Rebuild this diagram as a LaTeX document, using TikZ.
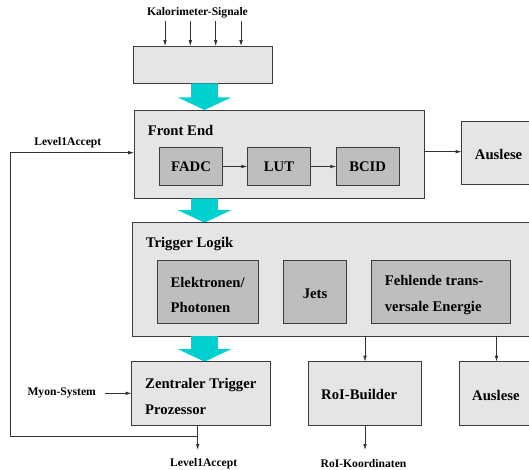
\documentclass[tikz,border=0pt]{standalone}
\usepackage{fontspec}
\setmainfont{Liberation Serif}
\newfontfamily\labelfont{Liberation Serif}
\usetikzlibrary{arrows.meta,calc}
\definecolor{boxlight}{RGB}{229,229,229}
\definecolor{boxdark}{RGB}{190,190,190}
\definecolor{flowcyan}{RGB}{0,208,208}
\definecolor{edge}{RGB}{60,60,60}
\tikzset{
  outerbox/.style={draw=edge, line width=0.9pt, fill=boxlight, inner sep=0pt, outer sep=0pt},
  innerbox/.style={draw=edge, line width=0.9pt, fill=boxdark, inner sep=0pt, outer sep=0pt},
  big/.style={font=\labelfont\fontsize{14.7}{25.5}\selectfont\bfseries, inner sep=0pt, align=left},
  small/.style={font=\labelfont\fontsize{11.6}{14}\selectfont\bfseries, inner sep=0pt},
  conn/.style={draw=black!80, line width=0.8pt, -{Latex[length=6pt,width=3.6pt]}},
  flow/.style={fill=flowcyan, draw=none}
}
% thick cyan data-flow arrow: shaft top y, tip y
\newcommand{\flowarrow}[2]{%
  \fill[flow] (191,#1) -- (218,#1) -- (218,#2-12.5) -- (231,#2-12.5)
    -- (204.5,#2) -- (178,#2-12.5) -- (191,#2-12.5) -- cycle;}
\begin{document}
\begin{tikzpicture}[x=1pt,y=-1pt]
\useasboundingbox (0,0) rectangle (529,470);

% input stage
\node[small] (kal) at (197.5,12.7) {Kalorimeter-Signale};
\node[outerbox, minimum width=139pt, minimum height=37pt] (inp) at (202.8,64.7) {};
\foreach \x/\n in {165/a,190.3/b,215.7/c,241/d}{
  \coordinate (in\n) at (\x,21.3);
  \draw[conn] (in\n) -- (in\n |- inp.north);
}
\flowarrow{83.3}{110}

% front end
\node[outerbox, minimum width=290pt, minimum height=88.3pt] (fe) at (279.2,154.2) {};
\node[big, anchor=west] (fet) at (147.7,130) {Front End};
\node[innerbox, minimum width=63.4pt, minimum height=38pt] (fadc) at (191,166.5) {};
\node[innerbox, minimum width=63.4pt, minimum height=38pt] (lut) at (279,166.5) {};
\node[innerbox, minimum width=62.7pt, minimum height=38pt] (bcid) at (367.7,166.5) {};
\node[big] (fadct) at (fadc) {FADC};
\node[big] (lutt) at (lut) {LUT};
\node[big] (bcidt) at (bcid) {BCID};
\draw[conn] (fadc) -- (lut);
\draw[conn] (lut) -- (bcid);

% readout of the front end
\node[outerbox, minimum width=74pt, minimum height=62.6pt] (aus1) at (498.7,153) {};
\node[big, anchor=west] (aus1t) at (474.7,154.5) {Auslese};
\draw[conn] (fe.east |- 0,151.7) -- (aus1.west |- 0,151.7);

\flowarrow{198.3}{222.7}

% trigger logic
\node[outerbox, minimum width=408pt, minimum height=113.3pt] (tl) at (336.3,279.3) {};
\node[big, anchor=west] (tlt) at (145.7,243.6) {Trigger Logik};
\node[innerbox, minimum width=101.6pt, minimum height=62.8pt] (ele) at (208,291.8) {};
\node[innerbox, minimum width=63.4pt, minimum height=62.8pt] (jets) at (315.1,291.8) {};
\node[innerbox, minimum width=139.3pt, minimum height=62.8pt] (fehl) at (441.1,291.8) {};
\node[big, anchor=west] (elet) at (170.4,295) {Elektronen/\\Photonen};
\node[big] (jetst) at (315.1,293.5) {Jets};
\node[big, anchor=west] (fehlt) at (384.6,295) {Fehlende trans-\\versale Energie};

\flowarrow{336}{361.7}

% central trigger processor and readout
\node[outerbox, minimum width=138.3pt, minimum height=64pt] (ztp) at (200.8,393.7) {};
\node[big, anchor=west] (ztpt) at (145,396.5) {Zentraler Trigger\\Prozessor};
\node[outerbox, minimum width=113.4pt, minimum height=64pt] (roi) at (365,393.7) {};
\node[big, anchor=west] (roit) at (321,394.5) {RoI-Builder};
\node[outerbox, minimum width=75pt, minimum height=64pt] (aus2) at (496.5,393.7) {};
\node[big, anchor=west] (aus2t) at (472,395) {Auslese};

\draw[conn] (tl.south -| roi) -- (roi.north);
\draw[conn] (tl.south -| aus2) -- (aus2.north);

% muon input
\node[small] (myon) at (61.7,393.3) {Myon-System};
\draw[conn] ([xshift=9pt]myon.east) -- (ztp.west |- myon);

% outputs
\coordinate (l1out) at (197.7,450);
\coordinate (roiout) at (365,450);
\draw[conn] (ztp.south -| l1out) -- (l1out);
\draw[conn] (roi.south) -- (roiout);
\node[small] (l1t) at (203.7,463.3) {Level1Accept};
\node[small] (roik) at (363.5,463.3) {RoI-Koordinaten};

% Level1Accept feedback to the front end
\coordinate (fbstart) at (197.7,436.7);
\coordinate (fbleft) at (10,436.7);
\draw[conn] (fbstart) -- (fbleft) |- (fe.west |- 0,152.7);
\node[small] (l1top) at (67.8,142.7) {Level1Accept};
\end{tikzpicture}
\end{document}
